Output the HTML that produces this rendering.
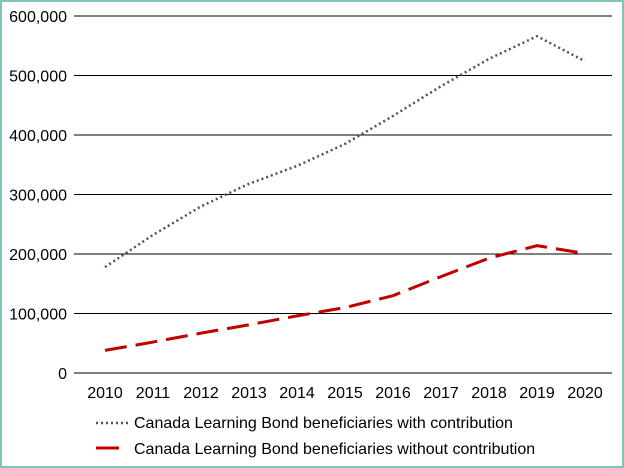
<!DOCTYPE html>
<html><head><meta charset="utf-8"><style>
html,body{margin:0;padding:0;background:#fff}
svg{display:block;font-family:"Liberation Sans",sans-serif}
</style></head><body>
<svg id="chart" width="624" height="468">
<rect x="1" y="1" width="622" height="466" fill="#fff" stroke="#7fc4b8" stroke-width="2"/>
<g id="grid"></g><g id="series"></g><g id="labels"></g>
<g>
<g>
<line x1="96" y1="423" x2="130" y2="423" stroke="#44546a" stroke-width="2.5" stroke-dasharray="2,3"/>
<text x="134" y="428" font-size="16" fill="#000">Canada Learning Bond beneficiaries with contribution</text></g>
<g>
<line x1="96" y1="448" x2="119" y2="448" stroke="#c00000" stroke-width="3"/>
<text x="134" y="454" font-size="16" fill="#000">Canada Learning Bond beneficiaries without contribution</text></g>
</g>
</svg>
<script>
const years=["2010","2011","2012","2013","2014","2015","2016","2017","2018","2019","2020"];
const withContribution=[178000,232000,280000,318000,348000,385000,432000,482000,528000,566000,524000];
const withoutContribution=[38000,52000,67000,81000,96000,110000,130000,162000,193000,214000,201000];
const yTicks=[0,100000,200000,300000,400000,500000,600000];
const NS="http://www.w3.org/2000/svg";
const x=i=>105+i*48, y=v=>373-v*(357/600000);
function mk(t,a,p){const e=document.createElementNS(NS,t);for(const k in a)e.setAttribute(k,a[k]);p.appendChild(e);return e;}
const grid=document.getElementById('grid'),lab=document.getElementById('labels'),ser=document.getElementById('series');
yTicks.forEach(v=>{
 const l=mk('line',{x1:74,x2:612,y1:y(v),y2:y(v),stroke:'#000','stroke-width':1},grid);
 
 
 const t=mk('text',{x:67,y:y(v)+6,'font-size':16,'text-anchor':'end'},lab);
 t.textContent=v.toLocaleString('en-US');
 
 
});
years.forEach((yr,i)=>{
 const t=mk('text',{x:x(i),y:398,'font-size':16,'text-anchor':'middle'},lab);
 t.textContent=yr;
 
 
});
const p1=mk('polyline',{points:withContribution.map((v,i)=>x(i)+','+y(v)).join(' '),fill:'none',stroke:'#44546a','stroke-width':2.5,'stroke-dasharray':'2,3'},ser);


const p2=mk('polyline',{points:withoutContribution.map((v,i)=>x(i)+','+y(v)).join(' '),fill:'none',stroke:'#c00000','stroke-width':3,'stroke-dasharray':'22,9'},ser);


</script>
</body></html>
